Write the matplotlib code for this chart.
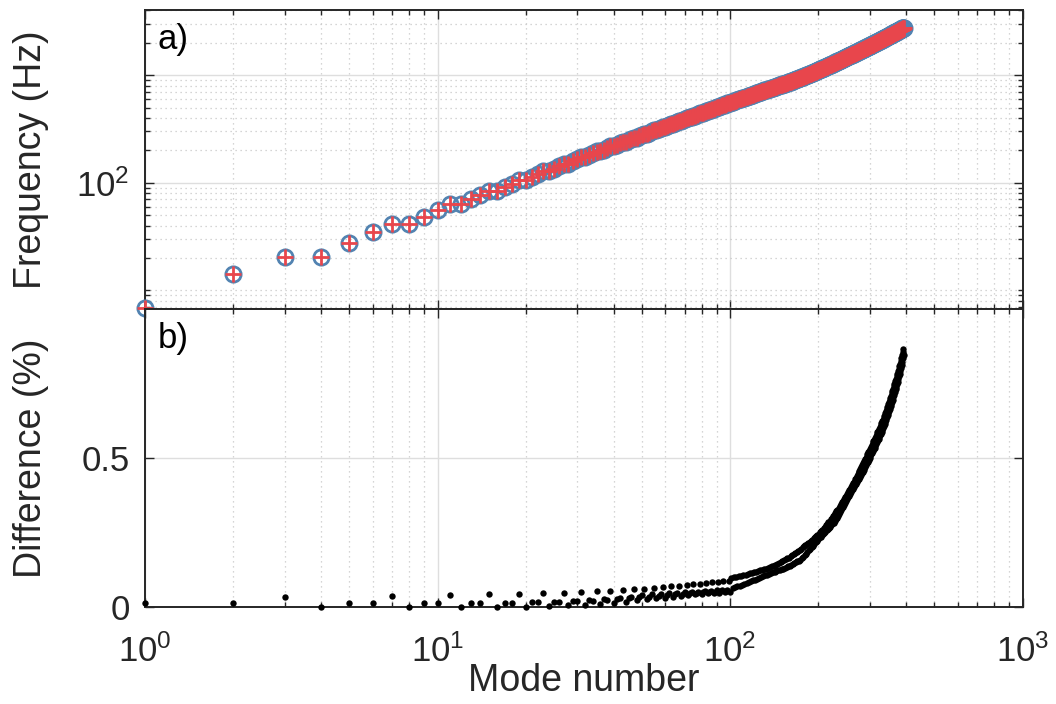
import numpy as np
import matplotlib.pyplot as plt
from matplotlib.ticker import FixedLocator, NullFormatter, NullLocator

plt.rcParams['font.family'] = ['Liberation Sans', 'DejaVu Sans']
plt.rcParams['mathtext.fontset'] = 'custom'
plt.rcParams['mathtext.rm'] = 'Liberation Sans'
plt.rcParams['mathtext.it'] = 'Liberation Sans:italic'

# frequency of each mode (Hz), mode 1..392
freq = [
    6.8, 14.2, 20.5, 20.5, 27.3, 35.0, 41.3, 41.3, 48.3, 55.7,
    63.0, 63.0, 70.0, 76.5, 83.0, 83.0, 90.5, 97.9, 105.4, 105.4,
    112.9, 120.3, 127.8, 127.8, 135.3, 142.7, 150.2, 150.2, 157.7, 165.1,
    172.6, 172.6, 180.1, 187.5, 195.0, 195.0, 202.5, 209.9, 217.4, 217.4,
    224.9, 232.3, 239.8, 239.8, 247.3, 254.7, 262.2, 262.2, 269.7, 277.1,
    284.6, 284.6, 292.1, 299.5, 307.0, 307.0, 314.5, 321.9, 329.4, 329.4,
    336.9, 344.3, 351.8, 351.8, 359.3, 366.7, 374.2, 374.2, 381.7, 389.1,
    396.6, 396.6, 404.1, 411.5, 419.0, 419.0, 426.5, 433.9, 441.4, 441.4,
    448.9, 456.3, 463.8, 463.8, 471.3, 478.7, 486.2, 486.2, 493.7, 501.1,
    508.6, 508.6, 516.1, 523.5, 531.0, 531.0, 538.5, 545.9, 553.4, 553.4,
    560.4, 567.3, 574.2, 574.2, 581.2, 588.1, 595.0, 595.0, 602.0, 608.9,
    615.8, 615.8, 622.8, 629.7, 636.6, 636.6, 643.6, 650.5, 657.4, 657.4,
    664.4, 671.3, 678.2, 678.2, 685.2, 692.1, 699.0, 699.0, 706.0, 712.9,
    719.8, 719.8, 726.8, 733.7, 740.6, 740.6, 747.6, 754.5, 761.4, 761.4,
    768.4, 775.3, 782.2, 782.2, 789.2, 796.1, 803.0, 803.0, 810.0, 816.9,
    823.8, 823.8,
    829, 835, 840, 845, 851, 856, 861, 867, 872, 877,
    883, 889, 894, 900, 906, 911, 917, 923, 928, 934,
    940, 946, 952, 958, 964, 970, 976, 982, 988, 993,
    1000, 1006, 1012, 1018, 1025, 1031, 1037, 1043, 1050, 1056,
    1062, 1069, 1075, 1082, 1089, 1095, 1102, 1108, 1115, 1121,
    1128, 1135, 1142, 1149, 1155, 1162, 1169, 1176, 1183, 1190,
    1197, 1204, 1211, 1218, 1225, 1232, 1239, 1246, 1253, 1261,
    1268, 1275, 1282, 1290, 1297, 1304, 1312, 1319, 1326, 1334,
    1341, 1348, 1356, 1363, 1371, 1378, 1386, 1393, 1401, 1408,
    1416, 1423, 1431, 1439, 1446, 1454, 1461, 1469, 1477, 1484,
    1492, 1500, 1508, 1515, 1523, 1531, 1539, 1547, 1554, 1562,
    1570, 1578, 1586, 1594, 1602, 1610, 1618, 1626, 1634, 1642,
    1650, 1658, 1666, 1674, 1682, 1690, 1699, 1707, 1715, 1723,
    1731, 1740, 1748, 1756, 1765, 1773, 1781, 1790, 1798, 1807,
    1815, 1824, 1832, 1841, 1849, 1858, 1866, 1875, 1883, 1892,
    1901, 1910, 1918, 1927, 1936, 1945, 1953, 1962, 1971, 1980,
    1988, 1997, 2006, 2015, 2024, 2033, 2042, 2051, 2060, 2069,
    2078, 2087, 2096, 2106, 2115, 2124, 2133, 2142, 2151, 2161,
    2170, 2179, 2189, 2198, 2207, 2217, 2226, 2235, 2245, 2254,
    2264, 2273, 2283, 2293, 2302, 2312, 2321, 2331, 2341, 2350,
    2360, 2370, 2380, 2390, 2399, 2409, 2419, 2429, 2439, 2448,
    2458, 2469, 2479, 2489, 2499, 2509, 2519, 2529, 2539, 2549,
    2559, 2569, 2580, 2590, 2600, 2611, 2621, 2631, 2641, 2652,
    2662, 2673, 2683, 2694, 2704, 2715, 2725, 2736, 2746, 2757,
]

# difference (%) for modes 1..100, one list per mode in each group of four
diff_g1 = [0.0125, 0.0125, 0.0125, 0.0125, 0.0145, 0.016, 0.018, 0.020, 0.023, 0.0253,
           0.0275, 0.0298, 0.032, 0.0345, 0.037, 0.0395, 0.042, 0.0438, 0.0455, 0.0473,
           0.049, 0.0503, 0.0515, 0.0528, 0.054]
diff_g2 = [0.0125, 0.0125, 0.0125, 0.0125, 0.0145, 0.016, 0.018, 0.020, 0.020, 0.025,
           0.030, 0.035, 0.040, 0.042, 0.044, 0.046, 0.048, 0.0493, 0.0505, 0.0518,
           0.053, 0.0543, 0.0555, 0.0568, 0.058]
diff_g3 = [0.035, 0.037, 0.039, 0.043, 0.045, 0.047, 0.048, 0.050, 0.052, 0.0543,
           0.0565, 0.0588, 0.061, 0.0638, 0.0665, 0.0693, 0.072, 0.0743, 0.0765, 0.0788,
           0.081, 0.0828, 0.0845, 0.0863, 0.088]
diff_g4 = [0.0, 0.0, 0.0, 0.0, 0.001, 0.003, 0.005, 0.007, 0.009, 0.0133,
           0.0177, 0.022, 0.0253, 0.0285, 0.0318, 0.035, 0.0375, 0.040, 0.0425, 0.045,
           0.046, 0.047, 0.048, 0.049, 0.050]

# difference (%) for odd modes 101..391 (upper branch)
diff_odd = [
    0.097, 0.099, 0.101, 0.103, 0.105, 0.107, 0.109, 0.111, 0.113, 0.115,
    0.117, 0.119, 0.121, 0.123, 0.125, 0.127, 0.129, 0.131, 0.133,
    0.136, 0.139, 0.142, 0.145, 0.148, 0.151, 0.154, 0.157, 0.160, 0.163, 0.166,
    0.170, 0.174, 0.177, 0.181, 0.185, 0.189, 0.192, 0.196,
    0.200, 0.204, 0.207, 0.211, 0.215, 0.219, 0.222, 0.226, 0.230, 0.234, 0.237, 0.241,
    0.245, 0.250, 0.255, 0.260, 0.265, 0.270, 0.275, 0.280, 0.285, 0.290, 0.295, 0.300,
    0.305, 0.310,
    0.316, 0.322, 0.327, 0.333, 0.339, 0.345, 0.351, 0.356, 0.362, 0.368, 0.374, 0.380,
    0.385, 0.391, 0.397,
    0.403, 0.409, 0.415, 0.421, 0.428, 0.434, 0.440, 0.446, 0.452, 0.458, 0.464, 0.470,
    0.477, 0.483, 0.489, 0.495, 0.501, 0.507,
    0.513, 0.519, 0.525, 0.531, 0.537, 0.544, 0.550, 0.556, 0.562, 0.568, 0.574, 0.580,
    0.586, 0.592, 0.598, 0.605, 0.611, 0.617, 0.623, 0.629, 0.635,
    0.642, 0.650, 0.657, 0.665, 0.672, 0.680, 0.687, 0.694, 0.702, 0.709, 0.717, 0.724,
    0.732,
    0.741, 0.749, 0.758, 0.766, 0.775, 0.783, 0.792, 0.800, 0.809, 0.817, 0.826,
    0.836, 0.845, 0.855, 0.865,
]
# difference (%) for even modes 102..392 (lower branch)
diff_even = [
    0.063, 0.066, 0.069, 0.072, 0.074, 0.077, 0.080, 0.083, 0.086, 0.089,
    0.092, 0.094, 0.097, 0.100, 0.103, 0.106, 0.109, 0.112,
    0.114, 0.116, 0.118, 0.121, 0.123, 0.125, 0.127, 0.129, 0.131, 0.134, 0.136, 0.138,
    0.141, 0.144, 0.147, 0.150, 0.153, 0.156, 0.159,
    0.163, 0.168, 0.174, 0.179, 0.184, 0.190, 0.195, 0.201, 0.206, 0.212, 0.217, 0.223,
    0.228,
    0.232, 0.236, 0.241, 0.245, 0.249, 0.253, 0.257, 0.262, 0.266, 0.270, 0.274, 0.279,
    0.283,
    0.288, 0.294, 0.300, 0.306, 0.313, 0.319, 0.325, 0.331, 0.337, 0.343, 0.349, 0.355,
    0.362, 0.368, 0.374, 0.380,
    0.386, 0.391, 0.397, 0.403, 0.408, 0.414, 0.420, 0.425, 0.431, 0.437, 0.442, 0.448,
    0.454, 0.459, 0.465, 0.471, 0.476, 0.482,
    0.488, 0.494, 0.500, 0.506, 0.512, 0.517, 0.523, 0.529, 0.535, 0.541, 0.547, 0.553,
    0.559, 0.565, 0.571, 0.577, 0.582, 0.588, 0.594, 0.600,
    0.607, 0.614, 0.622, 0.629, 0.637, 0.644, 0.651, 0.659, 0.666, 0.674, 0.681, 0.689,
    0.696,
    0.704, 0.713, 0.722, 0.730, 0.739, 0.748, 0.756, 0.765, 0.774, 0.782, 0.791,
    0.801, 0.812, 0.823, 0.834, 0.845,
]

modes = np.arange(1, len(freq) + 1)
freq = np.array(freq)
diff = np.zeros(len(freq))
diff[0:100:4] = diff_g1
diff[1:100:4] = diff_g2
diff[2:100:4] = diff_g3
diff[3:100:4] = diff_g4
diff[100::2] = diff_odd
diff[101::2] = diff_even
freq_b = freq / (1 + diff / 100)  # second model, slightly lower

dark = '#262626'
blue = '#5283B1'
red = '#E8464C'

fig = plt.figure(figsize=(10.56, 7.04), dpi=100)
ax1 = fig.add_axes([0.1373, 0.5611, 0.8310, 0.4247])
ax2 = fig.add_axes([0.1373, 0.1378, 0.8310, 0.4233])

ax1.plot(modes, freq, 'o', mfc='none', mec=blue, ms=11, mew=2.0, clip_on=False, zorder=3)
ax1.plot(modes, freq_b, '+', color=red, ms=11.5, mew=2.0, clip_on=False, zorder=4)
ax2.plot(modes, diff, 'o', color='k', ms=4.6, mew=0, clip_on=False, zorder=3)

for ax in (ax1, ax2):
    ax.set_xscale('log')
    ax.set_xlim(1, 1000)
    for s in ax.spines.values():
        s.set_color(dark)
        s.set_linewidth(1.4)
    ax.tick_params(which='both', direction='in', top=True, right=True,
                   color=dark, labelcolor=dark, labelsize=25, width=1.0)
    ax.tick_params(which='major', length=6.5)
    ax.tick_params(which='minor', length=3.6)
    ax.grid(which='major', color='#DEDEDE', lw=1.0, ls='-')
    ax.set_axisbelow(True)

# top panel
ax1.set_yscale('log')
ax1.set_ylim(6.7, 4030)
ax1.yaxis.set_major_locator(FixedLocator([100, 1000]))
ax1.set_yticklabels(['$10^{2}$', ''])
ax1.yaxis.set_minor_locator(FixedLocator([7, 8, 9, 10, 20, 30, 40, 50, 60, 70, 80, 90,
                                          200, 300, 400, 500, 600, 700, 800, 900,
                                          2000, 3000, 4000]))
ax1.yaxis.set_minor_formatter(NullFormatter())
ax1.grid(which='minor', color='#C8C8C8', lw=0.9, ls=(0, (1, 3)))
ax1.tick_params(labelbottom=False, pad=11)
ax1.set_ylabel('Frequency (Hz)', fontsize=27, color=dark)
ax1.yaxis.set_label_coords(-0.130, 0.5)
ax1.yaxis.label.set_va('center')
ax1.text(0.014, 0.955, 'a)', transform=ax1.transAxes, fontsize=25, color='k', va='top')

# bottom panel
ax2.set_ylim(0, 1.0)
ax2.set_yticks([0, 0.5])
ax2.set_yticklabels(['0', '0.5'])
ax2.yaxis.set_minor_locator(NullLocator())
ax2.xaxis.grid(which='minor', color='#C8C8C8', lw=0.9, ls=(0, (1, 3)))
ax2.tick_params(axis='y', pad=11)
ax2.tick_params(axis='x', pad=20)
ax2.set_ylabel('Difference (%)', fontsize=27, color=dark)
ax2.yaxis.set_label_coords(-0.130, 0.5)
ax2.yaxis.label.set_va('center')
ax2.set_xlabel('Mode number', fontsize=27, color=dark)
ax2.xaxis.set_label_coords(0.5, -0.25)
ax2.xaxis.label.set_va('center')
ax2.text(0.014, 0.955, 'b)', transform=ax2.transAxes, fontsize=25, color='k', va='top')

fig.savefig('out.png', dpi=100)
